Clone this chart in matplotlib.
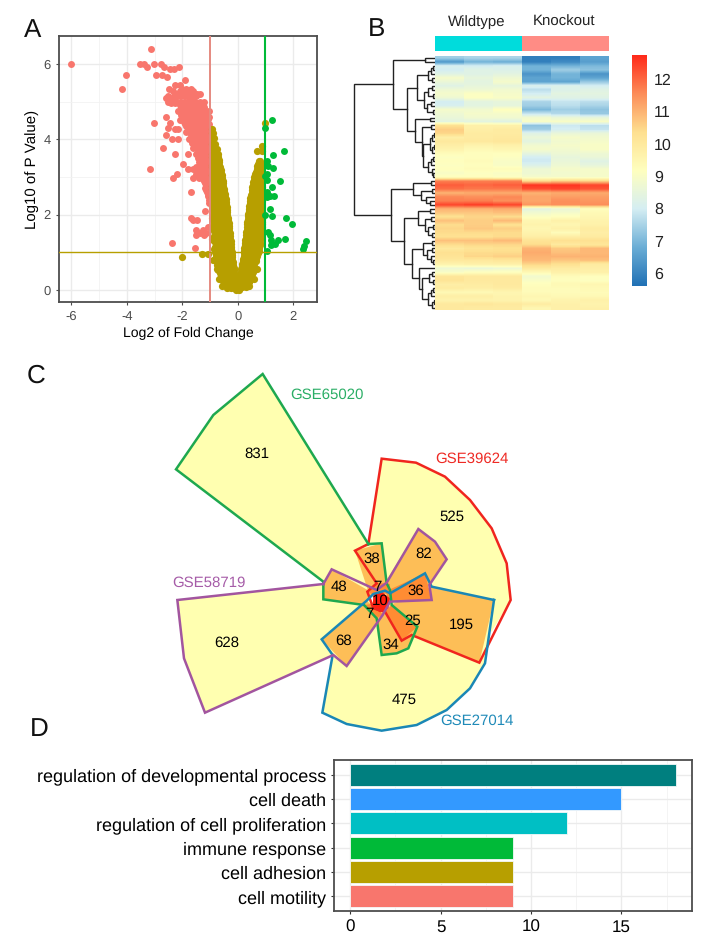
#!/usr/bin/env python3
"""Four panel figure: volcano plot, clustered heatmap, radial venn and GO bars."""

import matplotlib
matplotlib.use("Agg")
import matplotlib.pyplot as plt
import numpy as np
from matplotlib.colors import LinearSegmentedColormap

plt.rcParams["font.family"] = ["Liberation Sans", "DejaVu Sans"]
plt.rcParams["text.hinting"] = "no_hinting"
plt.rcParams["text.hinting_factor"] = 1
plt.rcParams["axes.unicode_minus"] = False

W, H = 708, 946

# --- Panel A: volcano, rows of (log10 p, [log2 fc ...]) ----------------------
down_rows = [
    (6.40, [-3.13]), (6.00, [-6.0, -3.54, -3.37, -3.01, -2.77]), (5.92, [-3.28, -2.65, -2.11]),
    (5.87, [-2.44, -2.29]), (5.70, [-4.02, -2.95, -2.72]), (5.66, [-2.55]),
    (5.56, [-1.9]), (5.43, [-2.26, -2.1]), (5.34, [-4.18, -2.47, -2.02, -1.69, -1.85]),
    (5.28, [-2.35, -2.1, -1.95, -1.75, -1.6]),
    (5.20, [-2.2, -1.84, -1.48, -1.36, -2.0]), (5.15, [-2.5, -2.3, -2.1, -1.95, -1.68, -1.52]),
    (5.10, [-2.58, -2.44, -2.26, -1.75, -1.6]),
    (5.00, [-2.5, -2.35, -2.2, -2.05, -1.9, -1.72, -1.55, -1.38, -1.22]),
    (4.95, [-2.4, -2.25, -1.98, -1.82, -1.65, -1.5, -1.32]),
    (4.90, [-2.1, -1.95, -1.78, -1.6, -1.45]),
    (4.85, [-2.0, -1.9, -1.75, -1.62, -1.48, -1.35, -1.22]),
    (4.80, [-2.05, -1.85, -1.7, -1.55, -1.4, -1.3]),
    (4.75, [-2.15, -1.95, -1.78, -1.6, -1.42, -1.28, -1.15, -1.05]),
    (4.70, [-2.0, -1.85, -1.65, -1.5, -1.35, -1.2, -1.12]),
    (4.65, [-2.05, -1.9, -1.7, -1.55, -1.4, -1.22, -1.1]),
    (4.60, [-2.59, -1.95, -1.75, -1.6, -1.45, -1.3, -1.15, -1.05]),
    (4.55, [-1.98, -1.8, -1.65, -1.5, -1.35, -1.2, -1.08]),
    (4.50, [-2.1, -1.85, -1.7, -1.55, -1.4, -1.25, -1.1]),
    (4.45, [-1.95, -1.8, -1.65, -1.5, -1.35, -1.2]),
    (4.44, [-3.01, -2.44]),
    (4.40, [-1.9, -1.75, -1.6, -1.45, -1.3, -1.15, -1.05]),
    (4.35, [-1.85, -1.7, -1.55, -1.4, -1.25, -1.1]),
    (4.30, [-2.5, -1.8, -1.65, -1.5, -1.35, -1.2, -1.06]),
    (4.26, [-2.26, -2.14]), (4.25, [-1.75, -1.6, -1.45, -1.3, -1.15]),
    (4.20, [-1.85, -1.7, -1.55, -1.4, -1.25, -1.1]),
    (4.15, [-1.65, -1.5, -1.35, -1.22, -1.08]),
    (4.12, [-2.58, -1.7, -1.55, -1.42, -1.3, -1.15, -1.05]),
    (4.05, [-1.6, -1.45, -1.28, -1.12]),
    (4.00, [-2.38, -2.14, -1.75, -1.5, -1.35, -1.2, -1.06]),
    (3.95, [-1.55, -1.38, -1.22, -1.08]),
    (3.90, [-1.65, -1.45, -1.3, -1.15, -1.05]),
    (3.85, [-1.5, -1.35, -1.2, -1.06]),
    (3.78, [-2.68, -1.6, -1.42, -1.28, -1.12]),
    (3.75, [-1.45, -1.3, -1.15]),
    (3.70, [-1.35, -1.22, -1.08]), (3.65, [-1.42, -1.3, -1.18, -1.05]),
    (3.62, [-2.26, -1.78, -1.5, -1.38, -1.25, -1.12]),
    (3.55, [-1.38, -1.22, -1.08]),
    (3.50, [-1.45, -1.3, -1.15, -1.05]), (3.45, [-1.35, -1.2, -1.05]),
    (3.40, [-1.4, -1.25, -1.1]), (3.35, [-1.3, -1.12]),
    (3.33, [-1.98, -1.32, -1.18, -1.05]), (3.25, [-1.5, -1.35, -1.2, -1.08]),
    (3.20, [-3.17, -1.78, -1.6, -1.42, -1.28, -1.12]), (3.15, [-1.38, -1.22, -1.08]),
    (3.09, [-2.2, -1.5, -1.3, -1.15, -1.04]), (3.05, [-1.32, -1.18, -1.05]),
    (2.98, [-2.34, -1.6, -1.4, -1.25, -1.1]), (2.95, [-1.25, -1.12]),
    (2.90, [-1.2, -1.06]), (2.85, [-1.18, -1.05]), (2.80, [-1.12, -1.03]), (2.75, [-1.12]),
    (2.70, [-1.18, -1.05]), (2.65, [-1.15, -1.05]),
    (2.60, [-1.69, -1.1, -1.02]), (2.55, [-1.08]), (2.50, [-1.06]), (2.40, [-1.05]),
    (2.30, [-1.02]), (2.10, [-1.18]),
    (1.90, [-1.69]), (1.85, [-1.48, -1.62]), (1.68, [-1.09]), (1.58, [-1.24, -1.51]),
    (1.52, [-1.36, -1.15]), (1.45, [-1.21, -1.51]), (1.24, [-2.38]), (1.12, [-1.56]),
]

neutral_rows = [
    (4.43, [0.98]), (3.83, [0.86]), (3.70, [0.68, 0.87]),
    # left arm
    (4.28, [-0.92]), (4.16, [-0.93, -0.88]), (4.02, [-0.91, -0.85]), (3.88, [-0.93, -0.81]),
    (3.74, [-0.90, -0.76]), (3.60, [-0.93, -0.85, -0.72]), (3.53, [-0.92, -0.80, -0.71]),
    (3.46, [-0.90, -0.79, -0.69]), (3.39, [-0.91, -0.78, -0.68]),
    (3.32, [-0.93, -0.80, -0.66]), (3.25, [-0.92, -0.78, -0.64]), (3.18, [-0.88, -0.75, -0.62]),
    (3.11, [-0.90, -0.76, -0.60]), (3.04, [-0.93, -0.79, -0.58]), (2.97, [-0.90, -0.76, -0.62, -0.57]),
    (2.90, [-0.88, -0.72, -0.55]), (2.83, [-0.90, -0.74, -0.59, -0.53]), (2.76, [-0.93, -0.77, -0.62, -0.52]),
    (2.69, [-0.92, -0.78, -0.62, -0.50]), (2.62, [-0.86, -0.70, -0.49]), (2.55, [-0.90, -0.74, -0.58, -0.47]),
    (2.48, [-0.93, -0.77, -0.61, -0.46]), (2.41, [-0.90, -0.74, -0.58, -0.44]),
    (2.34, [-0.86, -0.70, -0.54, -0.43]), (2.27, [-0.90, -0.74, -0.58, -0.42]),
    (2.20, [-0.92, -0.77, -0.61, -0.40]), (2.13, [-0.88, -0.73, -0.56, -0.39]),
    (2.06, [-0.85, -0.69, -0.52, -0.38]), (1.99, [-0.88, -0.72, -0.56, -0.37]),
    (1.92, [-0.92, -0.76, -0.60, -0.36]), (1.85, [-0.88, -0.72, -0.55, -0.40, -0.34]),
    (1.78, [-0.84, -0.67, -0.50, -0.33]), (1.71, [-0.88, -0.70, -0.54, -0.38, -0.32]),
    (1.64, [-0.90, -0.74, -0.58, -0.42, -0.31]), (1.57, [-0.86, -0.70, -0.54, -0.38, -0.30]),
    (1.50, [-0.82, -0.66, -0.50, -0.29]), (1.43, [-0.86, -0.70, -0.54, -0.38, -0.28]),
    (1.36, [-0.90, -0.73, -0.57, -0.41, -0.27]), (1.29, [-0.84, -0.68, -0.52, -0.36, -0.26]),
    (1.22, [-0.80, -0.64, -0.48, -0.25]), (1.15, [-0.82, -0.66, -0.50, -0.34, -0.24]),
    (1.08, [-0.86, -0.70, -0.55, -0.38, -0.23]), (1.01, [-0.82, -0.66, -0.50, -0.33, -0.22]),
    (0.94, [-0.78, -0.62, -0.45, -0.21]), (0.87, [-0.78, -0.62, -0.46, -0.30, -0.20]),
    (0.80, [-0.88, -0.68, -0.52, -0.35, -0.19]), (0.73, [-0.76, -0.60, -0.45, -0.28, -0.18]),
    (0.66, [-0.74, -0.58, -0.42, -0.17]), (0.59, [-0.70, -0.55, -0.40, -0.25, -0.15]),
    (0.52, [-0.70, -0.52, -0.34, -0.14]), (0.45, [-0.65, -0.48, -0.32, -0.18, -0.12]),
    (0.38, [-0.60, -0.45, -0.28, -0.10]), (0.31, [-0.58, -0.42, -0.26, -0.10, 0.00]),
    (0.24, [-0.55, -0.38, -0.20, -0.04]), (0.18, [-0.50, -0.36, -0.22, -0.08]),
    (0.12, [-0.46, -0.30, -0.14]), (0.06, [-0.38, -0.24, -0.10, 0.00]), (0.00, [-0.08, 0.05]),
    # right arm
    (3.42, [0.76, 0.82]), (3.35, [0.73, 0.85]), (3.28, [0.71, 0.85]), (3.21, [0.68, 0.80, 0.87]),
    (3.14, [0.66, 0.80, 0.88]), (3.07, [0.63, 0.75, 0.88]), (3.00, [0.60, 0.74, 0.88]),
    (2.93, [0.58, 0.72, 0.86]), (2.86, [0.56, 0.70, 0.84]), (2.79, [0.54, 0.68, 0.82]),
    (2.72, [0.53, 0.67, 0.81, 0.88]), (2.65, [0.51, 0.65, 0.79, 0.88]), (2.58, [0.50, 0.64, 0.78, 0.88]),
    (2.51, [0.48, 0.62, 0.76, 0.88]), (2.44, [0.46, 0.60, 0.74, 0.88]), (2.37, [0.44, 0.58, 0.72, 0.86]),
    (2.30, [0.43, 0.57, 0.71, 0.85]), (2.23, [0.42, 0.56, 0.70, 0.85]), (2.16, [0.41, 0.55, 0.70, 0.85]),
    (2.09, [0.40, 0.54, 0.68, 0.83]), (2.02, [0.38, 0.52, 0.67, 0.82, 0.88]),
    (1.95, [0.37, 0.51, 0.65, 0.79, 0.88]), (1.88, [0.36, 0.50, 0.64, 0.78, 0.88]),
    (1.81, [0.35, 0.49, 0.63, 0.77, 0.87]), (1.74, [0.34, 0.48, 0.62, 0.76, 0.86]),
    (1.67, [0.33, 0.47, 0.61, 0.75, 0.86]), (1.60, [0.32, 0.46, 0.60, 0.74, 0.86]),
    (1.53, [0.30, 0.45, 0.59, 0.73, 0.84]), (1.46, [0.29, 0.44, 0.58, 0.72, 0.83]),
    (1.39, [0.28, 0.42, 0.56, 0.70, 0.82]), (1.32, [0.27, 0.41, 0.55, 0.69, 0.82]),
    (1.25, [0.26, 0.40, 0.54, 0.68, 0.80]), (1.18, [0.25, 0.39, 0.53, 0.67, 0.80]),
    (1.11, [0.24, 0.38, 0.52, 0.65, 0.78]), (1.04, [0.23, 0.37, 0.51, 0.64, 0.76]),
    (0.97, [0.22, 0.36, 0.50, 0.62, 0.73]), (0.90, [0.21, 0.35, 0.49, 0.61, 0.70]),
    (0.83, [0.19, 0.33, 0.47, 0.60, 0.67]), (0.76, [0.18, 0.32, 0.46, 0.58, 0.65]),
    (0.69, [0.16, 0.30, 0.44, 0.57]), (0.62, [0.14, 0.28, 0.42, 0.56]),
    (0.55, [0.12, 0.26, 0.41, 0.55]), (0.48, [0.10, 0.25, 0.40, 0.54]),
    (0.41, [0.08, 0.22, 0.37, 0.50]), (0.34, [0.06, 0.20, 0.35, 0.48]),
    (0.27, [0.03, 0.18, 0.32, 0.44]), (0.20, [0.00, 0.16, 0.30, 0.40]),
    (0.14, [-0.06, 0.09, 0.23, 0.34]), (0.08, [-0.12, 0.02, 0.15, 0.28]),
    # stragglers
    (0.88, [-2.02]), (0.96, [-1.28, -1.06]), (1.35, [-0.94]), (0.55, [-0.76, 0.68]),
    (0.30, [-0.68, 0.58]), (0.10, [-0.56, 0.40]),
]

up_x = [1.22, 1.00, 1.67, 1.28, 1.07, 1.10, 1.28, 1.07, 0.98, 1.04, 1.52, 1.22, 1.04, 1.16, 1.31, 1.04,
        1.16, 1.22, 1.00, 1.74, 1.97, 1.08, 1.16, 1.19, 1.46, 1.70, 1.34, 1.19, 1.04, 2.46, 2.39, 2.36]
up_y = [4.52, 4.31, 3.70, 3.58, 3.43, 3.29, 3.24, 3.09, 3.03, 2.92, 2.90, 2.74, 2.61, 2.50, 2.50, 2.47,
        2.16, 1.97, 1.99, 1.92, 1.74, 1.55, 1.46, 1.33, 1.33, 1.34, 1.21, 1.19, 1.04, 1.29, 1.17, 1.08]

# --- Panel B: heatmap, one row per gene --------------------------------------
wildtype = [
    [7.4, 7.5, 7.5], [6.4, 6.9, 6.8], [8.1, 8.0, 8.1], [8.0, 8.3, 8.2], [8.3, 8.3, 8.4], [8.9, 8.5, 8.7],
    [8.6, 8.4, 8.9], [8.3, 8.5, 8.5], [8.7, 8.7, 8.8], [8.9, 9.1, 8.9], [8.7, 9.1, 9.0], [8.0, 8.4, 8.5],
    [8.1, 8.4, 8.5], [8.9, 8.8, 9.2], [8.7, 8.9, 8.9], [8.6, 8.8, 8.8], [8.4, 8.4, 8.3], [10.3, 9.7, 9.7],
    [10.6, 9.8, 9.9], [10.5, 9.9, 9.9], [9.8, 9.9, 10.0], [10.0, 10.0, 10.1], [9.8, 9.6, 9.7], [9.6, 9.4, 9.5],
    [9.3, 9.2, 9.2], [9.1, 9.2, 9.1], [9.2, 9.3, 9.0], [9.1, 9.2, 9.0], [9.2, 9.3, 9.3], [9.0, 9.1, 9.0],
    [9.2, 9.2, 9.1], [11.7, 11.7, 11.7], [12.1, 12.0, 12.1], [11.9, 11.8, 11.8], [11.0, 11.1, 11.1],
    [11.6, 11.5, 11.6], [11.7, 11.7, 11.5], [12.4, 12.5, 12.4], [11.0, 11.0, 11.1], [10.7, 10.7, 10.8],
    [10.3, 10.5, 10.4], [10.8, 10.6, 10.9], [10.4, 10.6, 10.3], [10.5, 10.7, 10.6], [10.4, 10.4, 10.4],
    [10.3, 10.3, 10.4], [10.8, 10.8, 10.9], [10.4, 10.5, 10.5], [10.0, 10.2, 10.3], [10.3, 10.4, 10.4],
    [10.2, 10.5, 10.6], [10.0, 10.0, 10.1], [9.6, 9.7, 9.7], [8.7, 8.6, 8.7], [9.0, 9.2, 9.2],
    [10.1, 10.0, 10.0], [10.2, 10.0, 10.0], [9.8, 9.9, 10.0], [9.9, 9.8, 9.9], [9.4, 9.4, 9.5],
    [9.8, 9.8, 9.6], [9.6, 9.6, 9.6], [10.0, 10.1, 10.0], [10.0, 9.9, 9.9],
]
knockout = [
    [5.9, 5.9, 6.6], [5.9, 6.1, 6.5], [6.9, 6.9, 7.0], [6.9, 7.4, 7.2], [6.3, 6.9, 6.3], [6.6, 6.9, 6.6],
    [6.6, 6.6, 7.3], [8.2, 8.2, 8.0], [7.7, 8.2, 8.3], [8.0, 8.4, 8.4], [8.4, 8.3, 8.3], [7.5, 7.8, 7.7],
    [7.4, 7.7, 7.5], [7.0, 7.4, 7.2], [7.8, 7.6, 7.3], [8.8, 8.6, 8.5], [9.0, 9.0, 9.0], [7.2, 7.9, 7.7],
    [7.4, 8.0, 7.8], [8.3, 8.6, 8.6], [8.6, 8.9, 8.8], [8.4, 8.8, 8.9], [8.8, 8.9, 9.0], [8.9, 8.8, 9.0],
    [8.5, 8.7, 8.7], [8.0, 8.5, 8.6], [7.9, 8.6, 8.3], [8.2, 8.7, 8.5], [8.7, 8.9, 8.9], [8.7, 8.8, 8.9],
    [8.9, 8.9, 8.9], [10.4, 10.6, 10.5], [12.6, 12.6, 12.4], [12.3, 12.4, 12.2], [11.0, 11.1, 11.1],
    [11.2, 11.3, 11.3], [11.2, 11.5, 11.4], [11.4, 11.5, 11.5], [8.4, 8.6, 9.2], [8.8, 8.9, 9.4],
    [9.1, 9.2, 9.5], [9.5, 9.7, 9.6], [9.6, 9.5, 9.7], [9.5, 9.7, 9.9], [9.6, 9.3, 9.8],
    [9.8, 9.8, 9.9], [10.2, 10.3, 10.3], [10.4, 10.0, 10.1], [11.0, 10.7, 10.9], [11.1, 10.8, 10.9],
    [11.0, 11.0, 11.0], [10.9, 10.7, 10.8], [10.5, 10.3, 9.9], [10.0, 9.9, 9.8], [9.4, 9.7, 9.7],
    [8.8, 9.3, 9.2], [9.0, 9.2, 9.1], [9.2, 9.4, 9.5], [9.3, 9.3, 9.4], [9.3, 9.3, 9.3],
    [9.5, 9.4, 9.4], [9.4, 9.6, 9.7], [9.9, 9.7, 9.6], [9.5, 9.7, 9.7],
]
heat_ticks = [6, 7, 8, 9, 10, 11, 12]
heat_range = (5.6, 12.74)

# dendrogram as nested (height, upper, lower), 0 is a leaf
tree_top = (125, (30, 0, 0), (85,
    (55, (22, (12, (5, 0, 0), 0), (9, 0, 0)),
         (32, (22, (10, 0, 0), (6, 0, 0)), (24, (12, 0, 0), (7, 0, 0)))),
    (60, (16, 0, 0),
         (40, (12, 0, 0), (36, (14, (8, (3, 0, 0), 0), (9, (4, 0, 0), 0)),
                               (22, (12, (5, 0, 0), 0), (10, 0, (6, 0, 0))))))))
tree_bottom = (133, (65, (12, 0, 0), (42, (10, 0, 0), (28, 0, (14, 0, 0)))), (92,
    (52, (14, 0, 0), (30, (12, 0, 0), (20, (6, 0, 0), (10, 0, 0)))),
    (68, (35, (10, 0, 0), (24, (8, 0, 0), (12, 0, (5, 0, 0)))),
         (48, 0, (40, (18, (8, 0, 0), (6, 0, 0)), (22, (12, (5, 0, 0), 0), (9, (4, 0, 0), 0)))))))
tree_root = (243, tree_top, tree_bottom)

# --- Panel C: radial venn, vertices in the panel's own units -----------------
region_single = [
    [(625, 552), (308, 42), (160, 165), (48, 328), (490, 665), (625, 700)],
    [(625, 552), (665, 296), (768, 308), (855, 350), (930, 420), (995, 505), (1040, 610), (1052, 720),
     (995, 815), (700, 730), (650, 700)],
    [(518, 885), (487, 1058), (560, 1092), (665, 1112), (770, 1095), (860, 1050), (930, 985), (975, 910),
     (1002, 720), (660, 725)],
    [(490, 672), (52, 720), (72, 895), (135, 1058), (520, 885), (650, 730)],
]
region_double = [
    [(585, 572), (665, 550), (680, 670), (650, 695), (625, 695)],
    [(515, 628), (490, 672), (490, 718), (612, 735), (640, 700)],
    [(775, 507), (825, 545), (860, 598), (808, 675), (680, 700), (675, 668)],
    [(815, 680), (1002, 720), (958, 908), (755, 825), (690, 735)],
    [(485, 838), (560, 918), (668, 765), (620, 722)],
    [(650, 775), (665, 885), (710, 880), (745, 865), (772, 800), (695, 735), (670, 750)],
]
region_triple = [
    [(795, 640), (815, 720), (690, 725), (675, 695)],
    [(695, 735), (772, 800), (725, 842), (675, 755)],
    [(622, 695), (650, 668), (690, 672), (690, 700), (640, 705)],
    [(612, 735), (650, 730), (668, 765), (650, 775)],
]
region_center = [(640, 702), (665, 695), (690, 715), (685, 745), (660, 757), (638, 745)]

outline_red = [(625, 552), (665, 296), (768, 308), (855, 350), (930, 420), (995, 505), (1040, 610), (1052, 720),
               (958, 908), (755, 825), (725, 842), (675, 755), (640, 745), (622, 695), (650, 670), (585, 572)]
outline_green = [(625, 552), (308, 42), (160, 165), (48, 328), (490, 665), (490, 718), (612, 735), (650, 775),
                 (665, 885), (710, 880), (745, 865), (772, 800), (695, 735), (690, 690), (680, 670), (665, 550)]
outline_blue = [(1002, 720), (815, 680), (795, 640), (690, 700), (675, 692), (640, 702), (620, 722), (485, 838),
                (518, 885), (487, 1058), (560, 1092), (665, 1112), (770, 1095), (860, 1050), (930, 985), (975, 910)]
outline_purple = [(490, 672), (52, 720), (72, 895), (135, 1058), (520, 885), (560, 918), (668, 765), (690, 725),
                  (815, 720), (808, 675), (860, 598), (825, 545), (775, 507), (680, 668), (650, 690), (515, 628)]

count_labels = ["831", "525", "82", "38", "48", "7", "36", "10", "195", "25", "7", "68", "34", "475", "628"]
count_x = [292, 875, 792, 635, 538, 652, 768, 660, 905, 757, 628, 550, 693, 733, 200]
count_y = [283, 472, 582, 598, 682, 680, 692, 722, 795, 782, 762, 843, 855, 1020, 848]

set_names = ["GSE65020", "GSE39624", "GSE58719", "GSE27014"]
set_x = [500, 937, 148, 952]
set_y = [105, 298, 668, 1082]
set_colors = ["#2BAE66", "#EE2A24", "#A65CA8", "#1F8AB8"]

# --- Panel D: GO terms -------------------------------------------------------
go_terms = ["cell motility", "cell adhesion", "immune response", "regulation of cell proliferation",
            "cell death", "regulation of developmental process"]
go_counts = [9, 9, 9, 12, 15, 18]
go_colors = ["#F8766D", "#B79F00", "#00BA38", "#00BFC4", "#3399FF", "#007F7F"]


def px_axes(fig, left, top, right, bottom):
    """Axes placed by pixel edges, y counted from the top of the figure."""
    return fig.add_axes([left / W, 1 - bottom / H, (right - left) / W, (bottom - top) / H])


def unpack(rows):
    xs, ys = [], []
    for y, row in rows:
        xs.extend(row)
        ys.extend([y] * len(row))
    return xs, ys


def style_ggplot(ax):
    ax.set_axisbelow(True)
    ax.grid(which="major", color="#EBEBEB", linewidth=1.0)
    ax.grid(which="minor", color="#F2F2F2", linewidth=0.6)
    ax.tick_params(which="minor", length=0)
    for spine in ax.spines.values():
        spine.set_color("#4D4D4D")
        spine.set_linewidth(1.3)


def draw_volcano(fig):
    ax = px_axes(fig, 59, 36, 317, 302)
    style_ggplot(ax)
    ax.set_xlim(-6.45, 2.86)
    ax.set_ylim(-0.32, 6.74)
    ax.set_xticks([-6, -4, -2, 0, 2])
    ax.set_xticks([-5, -3, -1, 1], minor=True)
    ax.set_yticks([0, 2, 4, 6])
    ax.set_yticks([1, 3, 5], minor=True)
    ax.tick_params(which="major", labelsize=9, labelcolor="#4D4D4D", color="#4D4D4D", length=2.5)

    dx, dy = unpack(down_rows)
    nx, ny = unpack(neutral_rows)
    ax.scatter(dx, dy, s=25, color="#F8766D", linewidths=0, zorder=2)
    ax.scatter(nx, ny, s=27, color="#B79F00", linewidths=0, zorder=3)
    ax.scatter(up_x, up_y, s=25, color="#00BA38", linewidths=0, zorder=4)
    ax.axvline(-1, color="#E58A80", linewidth=1.4, zorder=5)
    ax.axvline(1, color="#00BA38", linewidth=1.5, zorder=5)
    ax.axhline(1, color="#B79F00", linewidth=1.0, zorder=5)
    ax.set_xlabel("Log2 of Fold Change", fontsize=10.3, labelpad=3)
    ax.set_ylabel("Log10 of P Value)", fontsize=11, labelpad=3)


def tree_segments(node, next_leaf, segs):
    """Returns (height, row centre) of a node and collects its bracket."""
    if node == 0:
        row = next_leaf[0]
        next_leaf[0] += 1
        return 0, row
    height, upper, lower = node
    h1, y1 = tree_segments(upper, next_leaf, segs)
    h2, y2 = tree_segments(lower, next_leaf, segs)
    segs.append(([h1, height, height, h2], [y1, y1, y2, y2]))
    return height, (y1 + y2) / 2


def draw_heatmap(fig):
    matrix = np.hstack([np.array(wildtype), np.array(knockout)])
    rows, cols = matrix.shape
    cmap = LinearSegmentedColormap.from_list(
        "rdylbu", ["#2171B5", "#6BAED6", "#D5EEF3", "#FFFFBF", "#FEE090", "#FC8D59", "#FF2A1A"])

    ax = px_axes(fig, 435, 56, 609, 310)
    # one image per column so only the rows get smoothed
    for j in range(cols):
        ax.imshow(matrix[:, [j]], cmap=cmap, vmin=heat_range[0], vmax=heat_range[1], aspect="auto",
                  interpolation="bilinear", extent=[j, j + 1, rows - 0.5, -0.5])
    ax.set_xlim(0, cols)
    ax.set_ylim(rows - 0.5, -0.5)
    ax.axis("off")

    den = px_axes(fig, 350, 56, 435, 310)
    segs = []
    tree_segments(tree_root, [0], segs)
    for xs, ys in segs:
        den.plot(xs, ys, color="#222222", linewidth=1.0, solid_joinstyle="miter")
    den.set_xlim(255, 0)
    den.set_ylim(rows - 0.5, -0.5)
    den.axis("off")

    # group annotation above the columns
    ann = px_axes(fig, 435, 36, 609, 51)
    ann.barh([0], [3], left=[0], height=1, color="#00DCDC")
    ann.barh([0], [3], left=[3], height=1, color="#FF8C85")
    ann.set_xlim(0, 6)
    ann.set_ylim(-0.5, 0.5)
    ann.axis("off")
    fig.text(477 / W, 1 - 22 / H, "Wildtype", fontsize=10.8, ha="center", va="center", color="#222222")
    fig.text(564 / W, 1 - 22 / H, "Knockout", fontsize=10.8, ha="center", va="center", color="#222222")

    # colour bar
    cax = px_axes(fig, 632, 55, 647, 286)
    ramp = np.linspace(heat_range[1], heat_range[0], 256).reshape(-1, 1)
    cax.imshow(ramp, cmap=cmap, vmin=heat_range[0], vmax=heat_range[1], aspect="auto",
               extent=[0, 1, heat_range[0], heat_range[1]])
    cax.set_xticks([])
    cax.yaxis.tick_right()
    cax.set_yticks(heat_ticks)
    cax.tick_params(axis="y", length=0, labelsize=11.5, labelcolor="#222222", pad=5)
    for spine in cax.spines.values():
        spine.set_visible(False)


def draw_venn(fig):
    ax = px_axes(fig, 160, 360, 530, 740)
    ax.set_xlim(0, 1110)
    ax.set_ylim(1140, 0)
    ax.axis("off")

    for region in region_single:
        ax.fill(*zip(*region), color="#FFFFB0", linewidth=0, zorder=1)
    for region in region_double:
        ax.fill(*zip(*region), color="#FDBE57", linewidth=0, zorder=2)
    for region in region_triple:
        ax.fill(*zip(*region), color="#FF8C33", linewidth=0, zorder=3)
    ax.fill(*zip(*region_center), color="#FF2010", linewidth=0, zorder=4)

    outlines = [(outline_red, "#F0251E"), (outline_green, "#1EA84F"),
                (outline_blue, "#1A87B5"), (outline_purple, "#A2559F")]
    for outline, color in outlines:
        closed = outline + outline[:1]
        ax.plot(*zip(*closed), color=color, linewidth=1.8, solid_joinstyle="miter", zorder=5)

    for label, x, y in zip(count_labels, count_x, count_y):
        ax.text(x, y, label, fontsize=11, ha="center", va="center", color="black", zorder=6)
    for name, x, y, color in zip(set_names, set_x, set_y, set_colors):
        ax.text(x, y, name, fontsize=10.5, ha="center", va="center", color=color, zorder=6)


def draw_bars(fig):
    ax = px_axes(fig, 334, 760, 692, 911)
    style_ggplot(ax)
    positions = np.arange(1, len(go_terms) + 1)
    ax.barh(positions, go_counts, height=0.9, color=go_colors, edgecolor="#F4F8F8", linewidth=0.6)
    ax.set_xlim(-0.9, 18.9)
    ax.set_ylim(0.4, 6.6)
    ax.set_xticks([0, 5, 10, 15])
    ax.set_xticks([2.5, 7.5, 12.5, 17.5], minor=True)
    ax.set_yticks(positions)
    ax.set_yticklabels(go_terms)
    ax.tick_params(axis="x", which="major", labelsize=12.5, color="#333333", length=2.5)
    ax.tick_params(axis="y", which="major", labelsize=13.3, color="#333333", length=2.5, pad=3)


def main():
    fig = plt.figure(figsize=(W / 100, H / 100), dpi=100, facecolor="white")
    draw_volcano(fig)
    draw_heatmap(fig)
    draw_venn(fig)
    draw_bars(fig)
    for letter, x, y in [("A", 33, 30), ("B", 377, 29), ("C", 36, 376), ("D", 39, 729)]:
        fig.text(x / W, 1 - y / H, letter, fontsize=19, ha="center", va="center", color="#111111")
    fig.savefig("out.png", dpi=100)


if __name__ == "__main__":
    main()
